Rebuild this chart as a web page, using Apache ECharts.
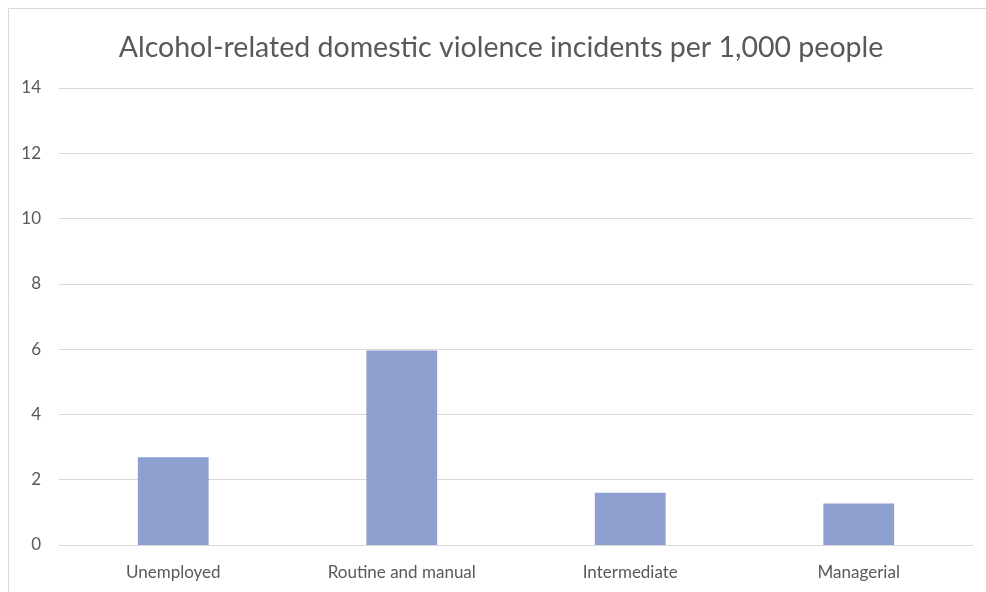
<!DOCTYPE html>
<html><head><meta charset="utf-8">
<script src="https://cdn.jsdelivr.net/npm/echarts@6/dist/echarts.min.js"></script>
<style>html,body{margin:0;padding:0;background:#fff}#c{width:986px;height:592px}</style>
</head><body><div id="c"></div>
<script>
const categories = ["Unemployed", "Routine and manual", "Intermediate", "Managerial"];
const values = [2.69, 5.96, 1.60, 1.27];
const yTicks = [0, 2, 4, 6, 8, 10, 12, 14];
const titleText = "Alcohol-related domestic violence incidents per 1,000 people";

const chart = echarts.init(document.getElementById('c'), null, {renderer: 'canvas'});
chart.setOption({
  animation: false,
  backgroundColor: '#ffffff',
  title: {
    text: titleText, left: 496, top: 28, textAlign: 'center',
    textStyle: {fontFamily: 'Lato', fontSize: 28.5, fontWeight: 'normal', color: '#595959'}
  },
  graphic: [{type: 'rect', shape: {x: 8.5, y: 8.5, width: 990, height: 600}, style: {fill: 'none', stroke: '#d9d9d9', lineWidth: 1}}],
  grid: {left: 59, right: 13, top: 88, bottom: 47, containLabel: false},
  xAxis: {
    type: 'category', data: categories,
    axisLine: {lineStyle: {color: '#d9d9d9'}}, axisTick: {show: false},
    axisLabel: {color: '#595959', fontFamily: 'Lato', fontSize: 17, margin: 19}
  },
  yAxis: {
    type: 'value', min: yTicks[0], max: yTicks[yTicks.length-1], interval: 2,
    axisLine: {show: false}, axisTick: {show: false},
    splitLine: {lineStyle: {color: '#d9d9d9'}},
    axisLabel: {color: '#595959', fontFamily: 'Lato', fontSize: 17, margin: 18}
  },
  series: [{type: 'bar', data: values, barWidth: '31%', itemStyle: {color: '#8ea0d0'}}]
});
</script></body></html>
